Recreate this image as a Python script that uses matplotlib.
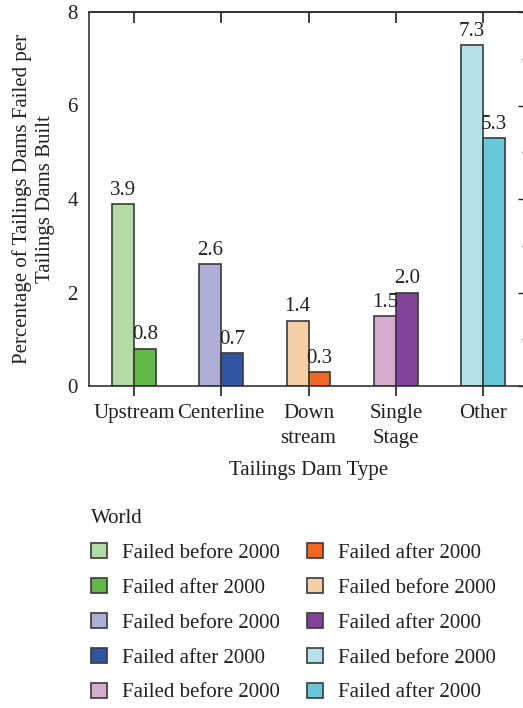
import matplotlib
matplotlib.use("Agg")
import matplotlib.pyplot as plt
from matplotlib.patches import Patch
from matplotlib.ticker import MultipleLocator
import numpy as np

plt.rcParams['font.family'] = ['Liberation Serif', 'DejaVu Serif']
plt.rcParams['text.color'] = '#231f20'
plt.rcParams['axes.labelcolor'] = '#231f20'
plt.rcParams['xtick.color'] = '#231f20'
plt.rcParams['ytick.color'] = '#231f20'

categories = ["Upstream", "Centerline", "Down\nstream", "Single\nStage", "Other"]
before_2000 = [3.9, 2.6, 1.4, 1.5, 7.3]
after_2000 = [0.8, 0.7, 0.3, 2.0, 5.3]
before_colors = ["#b3dba5", "#afaed6", "#f5cfa6", "#d5abd0", "#b5e2e8"]
after_colors = ["#62b946", "#3154a3", "#f26722", "#83439a", "#67c8da"]
legend_title = "World"
label_before = "Failed before 2000"
label_after = "Failed after 2000"

FS = 15
fig = plt.figure(figsize=(5.23, 7.08), dpi=100)
W, H = 523, 708
ax = fig.add_axes([89 / W, 1 - 386 / H, (528 - 89) / W, (386 - 12) / H])

x = np.arange(len(categories))
w = 0.25
edge = "#3a3a3a"
b1 = ax.bar(x - w / 2, before_2000, w, color=before_colors, edgecolor=edge, linewidth=1.2)
b2 = ax.bar(x + w / 2, after_2000, w, color=after_colors, edgecolor=edge, linewidth=1.2)
ax.bar_label(b1, labels=[f"{v:.1f}" for v in before_2000], padding=3, fontsize=FS)
ax.bar_label(b2, labels=[f"{v:.1f}" for v in after_2000], padding=3, fontsize=FS)

ax.set_xlim(-0.515, len(categories) - 0.485)
ax.set_ylim(0, 8)
ax.set_xticks(x)
ax.set_xticklabels(categories, fontsize=FS, linespacing=1.45)
ax.yaxis.set_major_locator(MultipleLocator(2))
ax.yaxis.set_minor_locator(MultipleLocator(1))
ax.tick_params(axis='y', which='both', left=False, right=True, direction='in',
               labelleft=True, labelright=False, labelsize=FS, pad=8)
ax.tick_params(axis='y', which='major', length=7, width=1)
ax.tick_params(axis='y', which='minor', length=4, width=1)
ax.tick_params(axis='x', which='major', direction='out', length=7, width=1.2, pad=6)

top = ax.secondary_xaxis('top')
top.set_xticks(x)
top.tick_params(direction='in', length=8, width=1.2, labeltop=False)
top.spines['top'].set_linewidth(1.2)
top.spines['top'].set_color('#333333')

for s in ax.spines.values():
    s.set_linewidth(1.2)
    s.set_color('#333333')

ax.set_xlabel("Tailings Dam Type", fontsize=FS, labelpad=9)
ax.set_ylabel("Percentage of Tailings Dams Failed per\nTailings Dams Built", fontsize=FS,
              labelpad=9, linespacing=1.3)

order = [(0, 0), (0, 1), (1, 0), (1, 1), (3, 0), (2, 1), (2, 0), (3, 1), (4, 0), (4, 1)]
handles, labels = [], []
for i, kind in order:
    col = before_colors[i] if kind == 0 else after_colors[i]
    handles.append(Patch(facecolor=col, edgecolor=edge, linewidth=1.2))
    labels.append(label_before if kind == 0 else label_after)

leg = fig.legend(handles, labels, ncol=2, loc='upper left',
                 bbox_to_anchor=(91 / W, 1 - 509 / H), frameon=False,
                 title=legend_title, title_fontsize=FS, fontsize=FS,
                 handlelength=0.75, handleheight=0.75, handletextpad=0.75,
                 columnspacing=1.3, labelspacing=0.72, borderaxespad=0,
                 borderpad=0, alignment='left')

fig.savefig("out.png", dpi=100, facecolor="white")
